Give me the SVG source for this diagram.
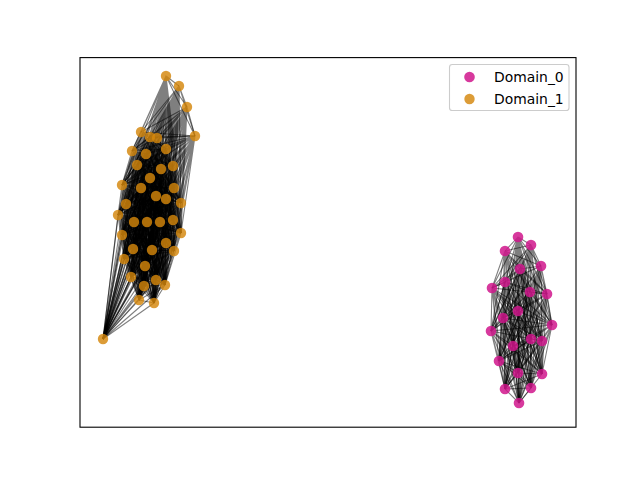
<svg xmlns="http://www.w3.org/2000/svg" width="640" height="480" viewBox="0 0 640 480">
<style>
.e{fill:none;stroke:#000;stroke-opacity:0.5;stroke-width:1.1}
.p{fill:#d0168c;fill-opacity:0.85}
.o{fill:#d4860b;fill-opacity:0.82}
.t{font-family:"DejaVu Sans",sans-serif;font-size:13.9px;fill:#000}
</style>
<rect x="0" y="0" width="640" height="480" fill="#fff"/>
<g id="connectors">
<path class="e" d="M166 76 179 86M166 76 187 107M166 76 141 132M166 76 150 137M166 76 157 138M166 76 195 136M166 76 132 151M166 76 146 154M166 76 166 149M166 76 137 165M166 76 161 169M166 76 173 166M166 76 150 178M166 76 122 185M166 76 141 188M166 76 174 188M166 76 156 196M166 76 166 199M166 76 181 203M166 76 126 204M166 76 118 215M166 76 134 222M166 76 147 222M166 76 160 222M166 76 173 220M166 76 122 235M166 76 181 233M166 76 166 243M166 76 133 249M166 76 152 250M166 76 174 251M166 76 124 259M166 76 145 266M166 76 131 277M166 76 156 280M166 76 165 285M166 76 144 286M166 76 139 300M166 76 154 303M166 76 103 339"/>
<path class="e" d="M179 86 187 107M179 86 141 132M179 86 150 137M179 86 157 138M179 86 195 136M179 86 132 151M179 86 146 154M179 86 166 149M179 86 137 165M179 86 161 169M179 86 173 166M179 86 150 178M179 86 122 185M179 86 141 188M179 86 174 188M179 86 156 196M179 86 166 199M179 86 181 203M179 86 126 204M179 86 118 215M179 86 134 222M179 86 147 222M179 86 160 222M179 86 173 220M179 86 122 235M179 86 181 233M179 86 166 243M179 86 133 249M179 86 152 250M179 86 174 251M179 86 124 259M179 86 145 266M179 86 131 277M179 86 156 280M179 86 165 285M179 86 144 286M179 86 139 300M179 86 154 303M179 86 103 339"/>
<path class="e" d="M187 107 141 132M187 107 150 137M187 107 157 138M187 107 195 136M187 107 132 151M187 107 146 154M187 107 166 149M187 107 137 165M187 107 161 169M187 107 173 166M187 107 150 178M187 107 122 185M187 107 141 188M187 107 174 188M187 107 156 196M187 107 166 199M187 107 181 203M187 107 126 204M187 107 118 215M187 107 134 222M187 107 147 222M187 107 160 222M187 107 173 220M187 107 122 235M187 107 181 233M187 107 166 243M187 107 133 249M187 107 152 250M187 107 174 251M187 107 124 259M187 107 145 266M187 107 131 277M187 107 156 280M187 107 165 285M187 107 144 286M187 107 139 300M187 107 154 303M187 107 103 339"/>
<path class="e" d="M141 132 150 137M141 132 157 138M141 132 195 136M141 132 132 151M141 132 146 154M141 132 166 149M141 132 137 165M141 132 161 169M141 132 173 166M141 132 150 178M141 132 122 185M141 132 141 188M141 132 174 188M141 132 156 196M141 132 166 199M141 132 181 203M141 132 126 204M141 132 118 215M141 132 134 222M141 132 147 222M141 132 160 222M141 132 173 220M141 132 122 235M141 132 181 233M141 132 166 243M141 132 133 249M141 132 152 250M141 132 174 251M141 132 124 259M141 132 145 266M141 132 131 277M141 132 156 280M141 132 165 285M141 132 144 286M141 132 139 300M141 132 154 303M141 132 103 339"/>
<path class="e" d="M150 137 157 138M150 137 195 136M150 137 132 151M150 137 146 154M150 137 166 149M150 137 137 165M150 137 161 169M150 137 173 166M150 137 150 178M150 137 122 185M150 137 141 188M150 137 174 188M150 137 156 196M150 137 166 199M150 137 181 203M150 137 126 204M150 137 118 215M150 137 134 222M150 137 147 222M150 137 160 222M150 137 173 220M150 137 122 235M150 137 181 233M150 137 166 243M150 137 133 249M150 137 152 250M150 137 174 251M150 137 124 259M150 137 145 266M150 137 131 277M150 137 156 280M150 137 165 285M150 137 144 286M150 137 139 300M150 137 154 303M150 137 103 339"/>
<path class="e" d="M157 138 195 136M157 138 132 151M157 138 146 154M157 138 166 149M157 138 137 165M157 138 161 169M157 138 173 166M157 138 150 178M157 138 122 185M157 138 141 188M157 138 174 188M157 138 156 196M157 138 166 199M157 138 181 203M157 138 126 204M157 138 118 215M157 138 134 222M157 138 147 222M157 138 160 222M157 138 173 220M157 138 122 235M157 138 181 233M157 138 166 243M157 138 133 249M157 138 152 250M157 138 174 251M157 138 124 259M157 138 145 266M157 138 131 277M157 138 156 280M157 138 165 285M157 138 144 286M157 138 139 300M157 138 154 303M157 138 103 339"/>
<path class="e" d="M195 136 132 151M195 136 146 154M195 136 166 149M195 136 137 165M195 136 161 169M195 136 173 166M195 136 150 178M195 136 122 185M195 136 141 188M195 136 174 188M195 136 156 196M195 136 166 199M195 136 181 203M195 136 126 204M195 136 118 215M195 136 134 222M195 136 147 222M195 136 160 222M195 136 173 220M195 136 122 235M195 136 181 233M195 136 166 243M195 136 133 249M195 136 152 250M195 136 174 251M195 136 124 259M195 136 145 266M195 136 131 277M195 136 156 280M195 136 165 285M195 136 144 286M195 136 139 300M195 136 154 303M195 136 103 339"/>
<path class="e" d="M132 151 146 154M132 151 166 149M132 151 137 165M132 151 161 169M132 151 173 166M132 151 150 178M132 151 122 185M132 151 141 188M132 151 174 188M132 151 156 196M132 151 166 199M132 151 181 203M132 151 126 204M132 151 118 215M132 151 134 222M132 151 147 222M132 151 160 222M132 151 173 220M132 151 122 235M132 151 181 233M132 151 166 243M132 151 133 249M132 151 152 250M132 151 174 251M132 151 124 259M132 151 145 266M132 151 131 277M132 151 156 280M132 151 165 285M132 151 144 286M132 151 139 300M132 151 154 303M132 151 103 339"/>
<path class="e" d="M146 154 166 149M146 154 137 165M146 154 161 169M146 154 173 166M146 154 150 178M146 154 122 185M146 154 141 188M146 154 174 188M146 154 156 196M146 154 166 199M146 154 181 203M146 154 126 204M146 154 118 215M146 154 134 222M146 154 147 222M146 154 160 222M146 154 173 220M146 154 122 235M146 154 181 233M146 154 166 243M146 154 133 249M146 154 152 250M146 154 174 251M146 154 124 259M146 154 145 266M146 154 131 277M146 154 156 280M146 154 165 285M146 154 144 286M146 154 139 300M146 154 154 303M146 154 103 339"/>
<path class="e" d="M166 149 137 165M166 149 161 169M166 149 173 166M166 149 150 178M166 149 122 185M166 149 141 188M166 149 174 188M166 149 156 196M166 149 166 199M166 149 181 203M166 149 126 204M166 149 118 215M166 149 134 222M166 149 147 222M166 149 160 222M166 149 173 220M166 149 122 235M166 149 181 233M166 149 166 243M166 149 133 249M166 149 152 250M166 149 174 251M166 149 124 259M166 149 145 266M166 149 131 277M166 149 156 280M166 149 165 285M166 149 144 286M166 149 139 300M166 149 154 303M166 149 103 339"/>
<path class="e" d="M137 165 161 169M137 165 173 166M137 165 150 178M137 165 122 185M137 165 141 188M137 165 174 188M137 165 156 196M137 165 166 199M137 165 181 203M137 165 126 204M137 165 118 215M137 165 134 222M137 165 147 222M137 165 160 222M137 165 173 220M137 165 122 235M137 165 181 233M137 165 166 243M137 165 133 249M137 165 152 250M137 165 174 251M137 165 124 259M137 165 145 266M137 165 131 277M137 165 156 280M137 165 165 285M137 165 144 286M137 165 139 300M137 165 154 303M137 165 103 339"/>
<path class="e" d="M161 169 173 166M161 169 150 178M161 169 122 185M161 169 141 188M161 169 174 188M161 169 156 196M161 169 166 199M161 169 181 203M161 169 126 204M161 169 118 215M161 169 134 222M161 169 147 222M161 169 160 222M161 169 173 220M161 169 122 235M161 169 181 233M161 169 166 243M161 169 133 249M161 169 152 250M161 169 174 251M161 169 124 259M161 169 145 266M161 169 131 277M161 169 156 280M161 169 165 285M161 169 144 286M161 169 139 300M161 169 154 303M161 169 103 339"/>
<path class="e" d="M173 166 150 178M173 166 122 185M173 166 141 188M173 166 174 188M173 166 156 196M173 166 166 199M173 166 181 203M173 166 126 204M173 166 118 215M173 166 134 222M173 166 147 222M173 166 160 222M173 166 173 220M173 166 122 235M173 166 181 233M173 166 166 243M173 166 133 249M173 166 152 250M173 166 174 251M173 166 124 259M173 166 145 266M173 166 131 277M173 166 156 280M173 166 165 285M173 166 144 286M173 166 139 300M173 166 154 303M173 166 103 339"/>
<path class="e" d="M150 178 122 185M150 178 141 188M150 178 174 188M150 178 156 196M150 178 166 199M150 178 181 203M150 178 126 204M150 178 118 215M150 178 134 222M150 178 147 222M150 178 160 222M150 178 173 220M150 178 122 235M150 178 181 233M150 178 166 243M150 178 133 249M150 178 152 250M150 178 174 251M150 178 124 259M150 178 145 266M150 178 131 277M150 178 156 280M150 178 165 285M150 178 144 286M150 178 139 300M150 178 154 303M150 178 103 339"/>
<path class="e" d="M122 185 141 188M122 185 174 188M122 185 156 196M122 185 166 199M122 185 181 203M122 185 126 204M122 185 118 215M122 185 134 222M122 185 147 222M122 185 160 222M122 185 173 220M122 185 122 235M122 185 181 233M122 185 166 243M122 185 133 249M122 185 152 250M122 185 174 251M122 185 124 259M122 185 145 266M122 185 131 277M122 185 156 280M122 185 165 285M122 185 144 286M122 185 139 300M122 185 154 303M122 185 103 339"/>
<path class="e" d="M141 188 174 188M141 188 156 196M141 188 166 199M141 188 181 203M141 188 126 204M141 188 118 215M141 188 134 222M141 188 147 222M141 188 160 222M141 188 173 220M141 188 122 235M141 188 181 233M141 188 166 243M141 188 133 249M141 188 152 250M141 188 174 251M141 188 124 259M141 188 145 266M141 188 131 277M141 188 156 280M141 188 165 285M141 188 144 286M141 188 139 300M141 188 154 303M141 188 103 339"/>
<path class="e" d="M174 188 156 196M174 188 166 199M174 188 181 203M174 188 126 204M174 188 118 215M174 188 134 222M174 188 147 222M174 188 160 222M174 188 173 220M174 188 122 235M174 188 181 233M174 188 166 243M174 188 133 249M174 188 152 250M174 188 174 251M174 188 124 259M174 188 145 266M174 188 131 277M174 188 156 280M174 188 165 285M174 188 144 286M174 188 139 300M174 188 154 303M174 188 103 339"/>
<path class="e" d="M156 196 166 199M156 196 181 203M156 196 126 204M156 196 118 215M156 196 134 222M156 196 147 222M156 196 160 222M156 196 173 220M156 196 122 235M156 196 181 233M156 196 166 243M156 196 133 249M156 196 152 250M156 196 174 251M156 196 124 259M156 196 145 266M156 196 131 277M156 196 156 280M156 196 165 285M156 196 144 286M156 196 139 300M156 196 154 303M156 196 103 339"/>
<path class="e" d="M166 199 181 203M166 199 126 204M166 199 118 215M166 199 134 222M166 199 147 222M166 199 160 222M166 199 173 220M166 199 122 235M166 199 181 233M166 199 166 243M166 199 133 249M166 199 152 250M166 199 174 251M166 199 124 259M166 199 145 266M166 199 131 277M166 199 156 280M166 199 165 285M166 199 144 286M166 199 139 300M166 199 154 303M166 199 103 339"/>
<path class="e" d="M181 203 126 204M181 203 118 215M181 203 134 222M181 203 147 222M181 203 160 222M181 203 173 220M181 203 122 235M181 203 181 233M181 203 166 243M181 203 133 249M181 203 152 250M181 203 174 251M181 203 124 259M181 203 145 266M181 203 131 277M181 203 156 280M181 203 165 285M181 203 144 286M181 203 139 300M181 203 154 303M181 203 103 339"/>
<path class="e" d="M126 204 118 215M126 204 134 222M126 204 147 222M126 204 160 222M126 204 173 220M126 204 122 235M126 204 181 233M126 204 166 243M126 204 133 249M126 204 152 250M126 204 174 251M126 204 124 259M126 204 145 266M126 204 131 277M126 204 156 280M126 204 165 285M126 204 144 286M126 204 139 300M126 204 154 303M126 204 103 339"/>
<path class="e" d="M118 215 134 222M118 215 147 222M118 215 160 222M118 215 173 220M118 215 122 235M118 215 181 233M118 215 166 243M118 215 133 249M118 215 152 250M118 215 174 251M118 215 124 259M118 215 145 266M118 215 131 277M118 215 156 280M118 215 165 285M118 215 144 286M118 215 139 300M118 215 154 303M118 215 103 339"/>
<path class="e" d="M134 222 147 222M134 222 160 222M134 222 173 220M134 222 122 235M134 222 181 233M134 222 166 243M134 222 133 249M134 222 152 250M134 222 174 251M134 222 124 259M134 222 145 266M134 222 131 277M134 222 156 280M134 222 165 285M134 222 144 286M134 222 139 300M134 222 154 303M134 222 103 339"/>
<path class="e" d="M147 222 160 222M147 222 173 220M147 222 122 235M147 222 181 233M147 222 166 243M147 222 133 249M147 222 152 250M147 222 174 251M147 222 124 259M147 222 145 266M147 222 131 277M147 222 156 280M147 222 165 285M147 222 144 286M147 222 139 300M147 222 154 303M147 222 103 339"/>
<path class="e" d="M160 222 173 220M160 222 122 235M160 222 181 233M160 222 166 243M160 222 133 249M160 222 152 250M160 222 174 251M160 222 124 259M160 222 145 266M160 222 131 277M160 222 156 280M160 222 165 285M160 222 144 286M160 222 139 300M160 222 154 303M160 222 103 339"/>
<path class="e" d="M173 220 122 235M173 220 181 233M173 220 166 243M173 220 133 249M173 220 152 250M173 220 174 251M173 220 124 259M173 220 145 266M173 220 131 277M173 220 156 280M173 220 165 285M173 220 144 286M173 220 139 300M173 220 154 303M173 220 103 339"/>
<path class="e" d="M122 235 181 233M122 235 166 243M122 235 133 249M122 235 152 250M122 235 174 251M122 235 124 259M122 235 145 266M122 235 131 277M122 235 156 280M122 235 165 285M122 235 144 286M122 235 139 300M122 235 154 303M122 235 103 339"/>
<path class="e" d="M181 233 166 243M181 233 133 249M181 233 152 250M181 233 174 251M181 233 124 259M181 233 145 266M181 233 131 277M181 233 156 280M181 233 165 285M181 233 144 286M181 233 139 300M181 233 154 303M181 233 103 339"/>
<path class="e" d="M166 243 133 249M166 243 152 250M166 243 174 251M166 243 124 259M166 243 145 266M166 243 131 277M166 243 156 280M166 243 165 285M166 243 144 286M166 243 139 300M166 243 154 303M166 243 103 339"/>
<path class="e" d="M133 249 152 250M133 249 174 251M133 249 124 259M133 249 145 266M133 249 131 277M133 249 156 280M133 249 165 285M133 249 144 286M133 249 139 300M133 249 154 303M133 249 103 339"/>
<path class="e" d="M152 250 174 251M152 250 124 259M152 250 145 266M152 250 131 277M152 250 156 280M152 250 165 285M152 250 144 286M152 250 139 300M152 250 154 303M152 250 103 339"/>
<path class="e" d="M174 251 124 259M174 251 145 266M174 251 131 277M174 251 156 280M174 251 165 285M174 251 144 286M174 251 139 300M174 251 154 303M174 251 103 339"/>
<path class="e" d="M124 259 145 266M124 259 131 277M124 259 156 280M124 259 165 285M124 259 144 286M124 259 139 300M124 259 154 303M124 259 103 339"/>
<path class="e" d="M145 266 131 277M145 266 156 280M145 266 165 285M145 266 144 286M145 266 139 300M145 266 154 303M145 266 103 339"/>
<path class="e" d="M131 277 156 280M131 277 165 285M131 277 144 286M131 277 139 300M131 277 154 303M131 277 103 339"/>
<path class="e" d="M156 280 165 285M156 280 144 286M156 280 139 300M156 280 154 303M156 280 103 339"/>
<path class="e" d="M165 285 144 286M165 285 139 300M165 285 154 303M165 285 103 339"/>
<path class="e" d="M144 286 139 300M144 286 154 303M144 286 103 339"/>
<path class="e" d="M139 300 154 303M139 300 103 339"/>
<path class="e" d="M154 303 103 339"/>
<path class="e" d="M518 237 531 245M518 237 505 251M518 237 520 269M518 237 541 266M518 237 505 282M518 237 492 288M518 237 530 292M518 237 547 294M518 237 518 311M518 237 503 318M518 237 491 331M518 237 552 325M518 237 531 339M518 237 542 341M518 237 513 346M518 237 499 361M518 237 518 373M518 237 542 374M518 237 505 389M518 237 531 388M518 237 519 403"/>
<path class="e" d="M531 245 505 251M531 245 520 269M531 245 541 266M531 245 505 282M531 245 492 288M531 245 530 292M531 245 547 294M531 245 518 311M531 245 503 318M531 245 491 331M531 245 552 325M531 245 531 339M531 245 542 341M531 245 513 346M531 245 499 361M531 245 518 373M531 245 542 374M531 245 505 389M531 245 531 388M531 245 519 403"/>
<path class="e" d="M505 251 520 269M505 251 541 266M505 251 505 282M505 251 492 288M505 251 530 292M505 251 547 294M505 251 518 311M505 251 503 318M505 251 491 331M505 251 552 325M505 251 531 339M505 251 542 341M505 251 513 346M505 251 499 361M505 251 518 373M505 251 542 374M505 251 505 389M505 251 531 388M505 251 519 403"/>
<path class="e" d="M520 269 541 266M520 269 505 282M520 269 492 288M520 269 530 292M520 269 547 294M520 269 518 311M520 269 503 318M520 269 491 331M520 269 552 325M520 269 531 339M520 269 542 341M520 269 513 346M520 269 499 361M520 269 518 373M520 269 542 374M520 269 505 389M520 269 531 388M520 269 519 403"/>
<path class="e" d="M541 266 505 282M541 266 492 288M541 266 530 292M541 266 547 294M541 266 518 311M541 266 503 318M541 266 491 331M541 266 552 325M541 266 531 339M541 266 542 341M541 266 513 346M541 266 499 361M541 266 518 373M541 266 542 374M541 266 505 389M541 266 531 388M541 266 519 403"/>
<path class="e" d="M505 282 492 288M505 282 530 292M505 282 547 294M505 282 518 311M505 282 503 318M505 282 491 331M505 282 552 325M505 282 531 339M505 282 542 341M505 282 513 346M505 282 499 361M505 282 518 373M505 282 542 374M505 282 505 389M505 282 531 388M505 282 519 403"/>
<path class="e" d="M492 288 530 292M492 288 547 294M492 288 518 311M492 288 503 318M492 288 491 331M492 288 552 325M492 288 531 339M492 288 542 341M492 288 513 346M492 288 499 361M492 288 518 373M492 288 542 374M492 288 505 389M492 288 531 388M492 288 519 403"/>
<path class="e" d="M530 292 547 294M530 292 518 311M530 292 503 318M530 292 491 331M530 292 552 325M530 292 531 339M530 292 542 341M530 292 513 346M530 292 499 361M530 292 518 373M530 292 542 374M530 292 505 389M530 292 531 388M530 292 519 403"/>
<path class="e" d="M547 294 518 311M547 294 503 318M547 294 491 331M547 294 552 325M547 294 531 339M547 294 542 341M547 294 513 346M547 294 499 361M547 294 518 373M547 294 542 374M547 294 505 389M547 294 531 388M547 294 519 403"/>
<path class="e" d="M518 311 503 318M518 311 491 331M518 311 552 325M518 311 531 339M518 311 542 341M518 311 513 346M518 311 499 361M518 311 518 373M518 311 542 374M518 311 505 389M518 311 531 388M518 311 519 403"/>
<path class="e" d="M503 318 491 331M503 318 552 325M503 318 531 339M503 318 542 341M503 318 513 346M503 318 499 361M503 318 518 373M503 318 542 374M503 318 505 389M503 318 531 388M503 318 519 403"/>
<path class="e" d="M491 331 552 325M491 331 531 339M491 331 542 341M491 331 513 346M491 331 499 361M491 331 518 373M491 331 542 374M491 331 505 389M491 331 531 388M491 331 519 403"/>
<path class="e" d="M552 325 531 339M552 325 542 341M552 325 513 346M552 325 499 361M552 325 518 373M552 325 542 374M552 325 505 389M552 325 531 388M552 325 519 403"/>
<path class="e" d="M531 339 542 341M531 339 513 346M531 339 499 361M531 339 518 373M531 339 542 374M531 339 505 389M531 339 531 388M531 339 519 403"/>
<path class="e" d="M542 341 513 346M542 341 499 361M542 341 518 373M542 341 542 374M542 341 505 389M542 341 531 388M542 341 519 403"/>
<path class="e" d="M513 346 499 361M513 346 518 373M513 346 542 374M513 346 505 389M513 346 531 388M513 346 519 403"/>
<path class="e" d="M499 361 518 373M499 361 542 374M499 361 505 389M499 361 531 388M499 361 519 403"/>
<path class="e" d="M518 373 542 374M518 373 505 389M518 373 531 388M518 373 519 403"/>
<path class="e" d="M542 374 505 389M542 374 531 388M542 374 519 403"/>
<path class="e" d="M505 389 531 388M505 389 519 403"/>
<path class="e" d="M531 388 519 403"/>
</g>
<g id="nodes_domain_0">
<g id="p1"><circle class="p" cx="518" cy="237" r="5.3"/></g>
<g id="p2"><circle class="p" cx="531" cy="245" r="5.3"/></g>
<g id="p3"><circle class="p" cx="505" cy="251" r="5.3"/></g>
<g id="p4"><circle class="p" cx="520" cy="269" r="5.3"/></g>
<g id="p5"><circle class="p" cx="541" cy="266" r="5.3"/></g>
<g id="p6"><circle class="p" cx="505" cy="282" r="5.3"/></g>
<g id="p7"><circle class="p" cx="492" cy="288" r="5.3"/></g>
<g id="p8"><circle class="p" cx="530" cy="292" r="5.3"/></g>
<g id="p9"><circle class="p" cx="547" cy="294" r="5.3"/></g>
<g id="p10"><circle class="p" cx="518" cy="311" r="5.3"/></g>
<g id="p11"><circle class="p" cx="503" cy="318" r="5.3"/></g>
<g id="p12"><circle class="p" cx="491" cy="331" r="5.3"/></g>
<g id="p13"><circle class="p" cx="552" cy="325" r="5.3"/></g>
<g id="p14"><circle class="p" cx="531" cy="339" r="5.3"/></g>
<g id="p15"><circle class="p" cx="542" cy="341" r="5.3"/></g>
<g id="p16"><circle class="p" cx="513" cy="346" r="5.3"/></g>
<g id="p17"><circle class="p" cx="499" cy="361" r="5.3"/></g>
<g id="p18"><circle class="p" cx="518" cy="373" r="5.3"/></g>
<g id="p19"><circle class="p" cx="542" cy="374" r="5.3"/></g>
<g id="p20"><circle class="p" cx="505" cy="389" r="5.3"/></g>
<g id="p21"><circle class="p" cx="531" cy="388" r="5.3"/></g>
<g id="p22"><circle class="p" cx="519" cy="403" r="5.3"/></g>
</g>
<g id="nodes_domain_1">
<g id="o1"><circle class="o" cx="166" cy="76" r="5.2"/></g>
<g id="o2"><circle class="o" cx="179" cy="86" r="5.2"/></g>
<g id="o3"><circle class="o" cx="187" cy="107" r="5.2"/></g>
<g id="o4"><circle class="o" cx="141" cy="132" r="5.2"/></g>
<g id="o5"><circle class="o" cx="150" cy="137" r="5.2"/></g>
<g id="o6"><circle class="o" cx="157" cy="138" r="5.2"/></g>
<g id="o7"><circle class="o" cx="195" cy="136" r="5.2"/></g>
<g id="o8"><circle class="o" cx="132" cy="151" r="5.2"/></g>
<g id="o9"><circle class="o" cx="146" cy="154" r="5.2"/></g>
<g id="o10"><circle class="o" cx="166" cy="149" r="5.2"/></g>
<g id="o11"><circle class="o" cx="137" cy="165" r="5.2"/></g>
<g id="o12"><circle class="o" cx="161" cy="169" r="5.2"/></g>
<g id="o13"><circle class="o" cx="173" cy="166" r="5.2"/></g>
<g id="o14"><circle class="o" cx="150" cy="178" r="5.2"/></g>
<g id="o15"><circle class="o" cx="122" cy="185" r="5.2"/></g>
<g id="o16"><circle class="o" cx="141" cy="188" r="5.2"/></g>
<g id="o17"><circle class="o" cx="174" cy="188" r="5.2"/></g>
<g id="o18"><circle class="o" cx="156" cy="196" r="5.2"/></g>
<g id="o19"><circle class="o" cx="166" cy="199" r="5.2"/></g>
<g id="o20"><circle class="o" cx="181" cy="203" r="5.2"/></g>
<g id="o21"><circle class="o" cx="126" cy="204" r="5.2"/></g>
<g id="o22"><circle class="o" cx="118" cy="215" r="5.2"/></g>
<g id="o23"><circle class="o" cx="134" cy="222" r="5.2"/></g>
<g id="o24"><circle class="o" cx="147" cy="222" r="5.2"/></g>
<g id="o25"><circle class="o" cx="160" cy="222" r="5.2"/></g>
<g id="o26"><circle class="o" cx="173" cy="220" r="5.2"/></g>
<g id="o27"><circle class="o" cx="122" cy="235" r="5.2"/></g>
<g id="o28"><circle class="o" cx="181" cy="233" r="5.2"/></g>
<g id="o29"><circle class="o" cx="166" cy="243" r="5.2"/></g>
<g id="o30"><circle class="o" cx="133" cy="249" r="5.2"/></g>
<g id="o31"><circle class="o" cx="152" cy="250" r="5.2"/></g>
<g id="o32"><circle class="o" cx="174" cy="251" r="5.2"/></g>
<g id="o33"><circle class="o" cx="124" cy="259" r="5.2"/></g>
<g id="o34"><circle class="o" cx="145" cy="266" r="5.2"/></g>
<g id="o35"><circle class="o" cx="131" cy="277" r="5.2"/></g>
<g id="o36"><circle class="o" cx="156" cy="280" r="5.2"/></g>
<g id="o37"><circle class="o" cx="165" cy="285" r="5.2"/></g>
<g id="o38"><circle class="o" cx="144" cy="286" r="5.2"/></g>
<g id="o39"><circle class="o" cx="139" cy="300" r="5.2"/></g>
<g id="o40"><circle class="o" cx="154" cy="303" r="5.2"/></g>
<g id="o41"><circle class="o" cx="103" cy="339" r="5.2"/></g>
</g>
<rect id="axes" x="80" y="57.6" width="496" height="369.6" fill="none" stroke="#000" stroke-width="1.1"/>
<g id="legend">
<rect x="449.5" y="64.5" width="119.5" height="46" rx="2.8" fill="#fff" fill-opacity="0.8" stroke="#ccc" stroke-width="1.1"/>
<circle class="p" cx="469.5" cy="77" r="5.3"/>
<text class="t" x="494" y="82">Domain_0</text>
<circle class="o" cx="469.5" cy="99" r="5.2"/>
<text class="t" x="494" y="104">Domain_1</text>
</g>
</svg>
